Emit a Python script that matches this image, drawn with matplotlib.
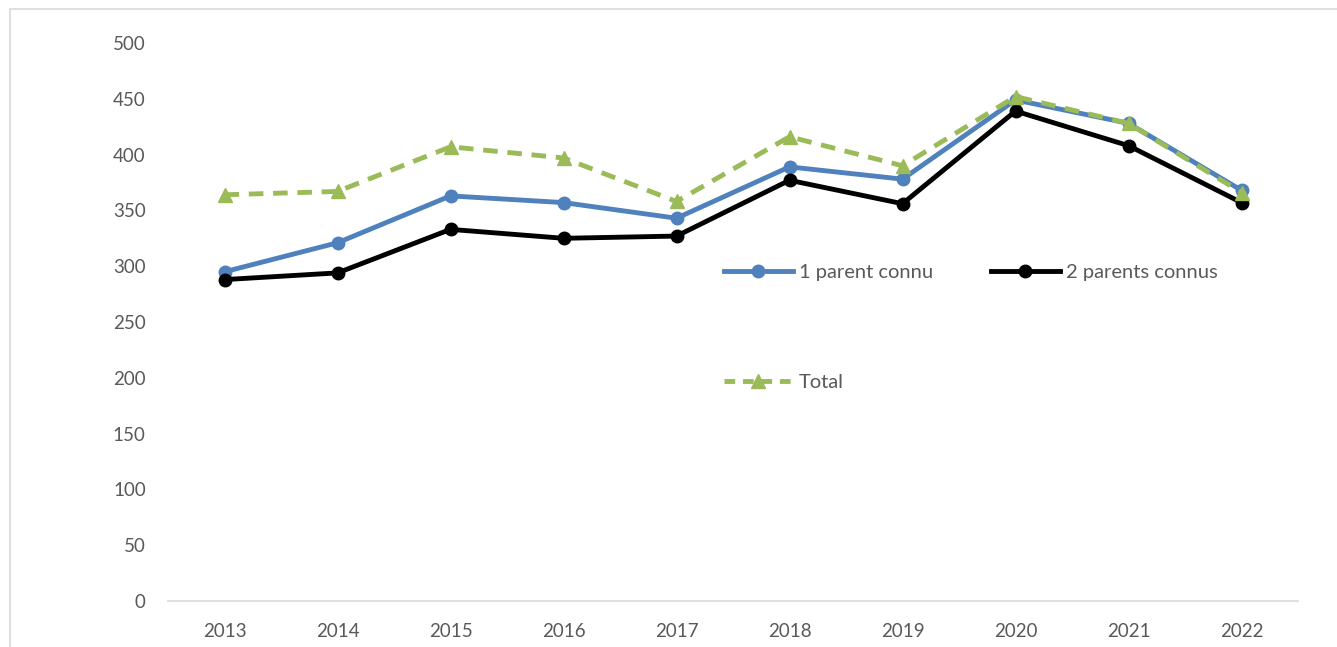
import matplotlib.pyplot as plt
from matplotlib.lines import Line2D

years = ["2013", "2014", "2015", "2016", "2017", "2018", "2019", "2020", "2021", "2022"]
un_parent = [295, 321, 363, 357, 343, 389, 378, 449, 428, 368]
deux_parents = [288, 294, 333, 325, 327, 377, 356, 439, 408, 357]
total = [364, 367, 407, 397, 358, 416, 390, 452, 428, 366]

BLUE = "#4f81bd"
BLACK = "#000000"
GREEN = "#9bbb59"
TEXT = "#595959"
AXIS = "#d9d9d9"

plt.rcParams["font.family"] = ["Lato", "DejaVu Sans"]

fig = plt.figure(figsize=(13.37, 6.47), dpi=100)
ax = fig.add_axes([168 / 1337, 1 - 601 / 647, (1298 - 168) / 1337, (601 - 43) / 647])

# outer chart frame (cut at right/bottom like the reference)
fig.add_artist(plt.Rectangle((10 / 1337, -0.05), 1.2, 1 - 9 / 647 + 0.05,
                             transform=fig.transFigure, fill=False,
                             edgecolor=AXIS, lw=1.2))

x = list(range(len(years)))
ax.plot(x, un_parent, color=BLUE, lw=3.5, marker="o", ms=9, zorder=3)
ax.plot(x, deux_parents, color=BLACK, lw=3.5, marker="o", ms=9, zorder=4)
ax.plot(x, total, color=GREEN, lw=3.5, ls=(0, (3, 2)), marker="^", ms=10, zorder=5)

ax.set_xlim(-0.5, len(years) - 0.5)
ax.set_ylim(0, 500)
ax.set_yticks(range(0, 501, 50))
ax.set_xticks(x)
ax.set_xticklabels(years)

for side in ["top", "right", "left"]:
    ax.spines[side].set_visible(False)
ax.spines["bottom"].set_color(AXIS)
ax.spines["bottom"].set_linewidth(1.2)
ax.tick_params(axis="both", length=0, labelsize=13.5, labelcolor=TEXT)
ax.tick_params(axis="y", pad=16)
ax.tick_params(axis="x", pad=16)

handles = [
    Line2D([], [], color=BLUE, lw=3.5, marker="o", ms=9),
    Line2D([], [], color=GREEN, lw=3.5, ls=(0, (2.2, 1.6)), marker="^", ms=10),
    Line2D([], [], color=BLACK, lw=3.5, marker="o", ms=9),
]
labels = ["1 parent connu", "Total", "2 parents connus"]
leg = fig.legend(handles, labels, ncol=2, loc="upper left",
                 bbox_to_anchor=(714 / 1337, 1 - 254 / 647),
                 frameon=False, fontsize=14.5, labelcolor=TEXT,
                 handlelength=3.4, handletextpad=0.3, labelspacing=4.6,
                 columnspacing=2.9, borderpad=0)

fig.savefig("out.png", dpi=100)
